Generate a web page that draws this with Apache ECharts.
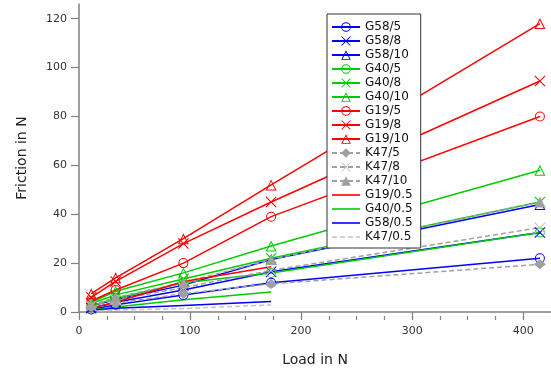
<!DOCTYPE html>
<html>
<head>
<meta charset="utf-8">
<script src="https://cdn.jsdelivr.net/npm/echarts@6/dist/echarts.min.js"></script>
<style>
  html, body { margin: 0; padding: 0; background: #fff; }
  #chart { width: 551px; height: 372px; }
</style>
</head>
<body>
<div id="chart"></div>
<script>
// loads (x) for the full runs and the short 0.5 runs
const loads = [11, 33, 94, 173, 415];
const loadsShort = [11, 33, 94, 173];

// friction values
const g58_5 = [1, 3, 7, 12, 22];
const g58_8 = [1.5, 4, 9, 16.5, 32.5];
const g58_10 = [2.5, 5, 11, 21.5, 44];
const g40_5 = [2.5, 5.5, 12, 16, 32.5];
const g40_8 = [3.5, 7, 13.5, 22, 45];
const g40_10 = [4, 8.5, 16, 27, 58];
const g19_5 = [4.5, 9, 20, 39, 80];
const g19_8 = [6, 12.5, 28, 45, 94.5];
const g19_10 = [7.5, 14, 30, 52, 118];
const k47_5 = [2, 3.5, 7.5, 11.5, 19.5];
const k47_8 = [2.5, 5, 10, 17, 34.5];
const k47_10 = [3, 6, 12, 21.5, 45];
const g19_05 = [1.5, 4, 12.5, 18.5];
const g40_05 = [0.8, 2, 5, 8.2];
const g58_05 = [0.7, 1.5, 2.7, 4.3];
const k47_05 = [0.4, 0.8, 1.4, 2.9];

const xTicks = [0, 100, 200, 300, 400];
const yTicks = [0, 20, 40, 60, 80, 100, 120];

const RED = "#ff0000", GREEN = "#00cc00", BLUE = "#0000ff", GRAY = "#a0a0a0", LGRAY = "#c4c4c4";

// thin outline markers (rings), drawn as filled paths so the outline stays ~1px
const RING = "path://M5,0A5,5 0 1,1 5,10A5,5 0 1,1 5,0Z M5,1A4,4 0 1,0 5,9A4,4 0 1,0 5,1Z";
const TRI_RING = "path://M5,0L10,10L0,10Z M5,2.01L1.455,9.1L8.545,9.1Z";
const X_MARK = "path://M0,0.7L0.7,0L5,4.3L9.3,0L10,0.7L5.7,5L10,9.3L9.3,10L5,5.7L0.7,10L0,9.3L4.3,5Z";
// legend icons for the plain line series
const LINE_ICON = "path://M0,4.2L28,4.2L28,5.8L0,5.8Z";
const DASH_ICON = "path://M0,4.2L5,4.2L5,5.8L0,5.8Z M8,4.2L13,4.2L13,5.8L8,5.8Z M16,4.2L21,4.2L21,5.8L16,5.8Z M24,4.2L28,4.2L28,5.8L24,5.8Z";

const zip = (xs, ys) => ys.map((y, i) => [xs[i], y]);

function mk(name, xs, ys, color, symbol, size, opts) {
  opts = opts || {};
  return {
    name: name,
    type: "line",
    data: zip(xs, ys),
    symbol: symbol || "none",
    symbolSize: size || 0,
    showSymbol: !!symbol,
    lineStyle: { color: opts.lineColor || color, width: 1.5, type: opts.dash ? [5, 3] : "solid" },
    itemStyle: { color: color, borderWidth: 0 },
    emphasis: { disabled: true },
    z: 2
  };
}

const series = [
  mk("G58/5", loads, g58_5, BLUE, RING, 10),
  mk("G58/8", loads, g58_8, BLUE, X_MARK, 11),
  mk("G58/10", loads, g58_10, BLUE, TRI_RING, 11),
  mk("G40/5", loads, g40_5, GREEN, RING, 10),
  mk("G40/8", loads, g40_8, GREEN, X_MARK, 11),
  mk("G40/10", loads, g40_10, GREEN, TRI_RING, 11),
  mk("G19/5", loads, g19_5, RED, RING, 10),
  mk("G19/8", loads, g19_8, RED, X_MARK, 11),
  mk("G19/10", loads, g19_10, RED, TRI_RING, 11),
  mk("K47/5", loads, k47_5, GRAY, "diamond", [12, 10], { dash: true }),
  mk("K47/8", loads, k47_8, LGRAY, X_MARK, 11, { dash: true, lineColor: GRAY }),
  mk("K47/10", loads, k47_10, GRAY, "triangle", 11, { dash: true }),
  mk("G19/0.5", loadsShort, g19_05, RED),
  mk("G40/0.5", loadsShort, g40_05, GREEN),
  mk("G58/0.5", loadsShort, g58_05, BLUE),
  mk("K47/0.5", loadsShort, k47_05, LGRAY, null, 0, { dash: true })
];

const legendData = series.map(s => {
  if (s.name === "K47/0.5") return { name: s.name, icon: DASH_ICON };
  if (s.name.endsWith("/0.5")) return { name: s.name, icon: LINE_ICON };
  return { name: s.name };
});

const axisGray = "#808080";
const labelStyle = { color: "#333", fontSize: 11, fontFamily: "DejaVu Sans" };

const chart = echarts.init(document.getElementById("chart"), null, { renderer: "canvas" });
chart.setOption({
  animation: false,
  backgroundColor: "#fff",
  textStyle: { fontFamily: "DejaVu Sans" },
  grid: [
    { left: 79, right: 0, top: 4, bottom: 56, containLabel: false },
    { left: 79, right: 0, top: 4, bottom: 56, containLabel: false }
  ],
  legend: {
    orient: "vertical",
    left: 327,
    top: 14,
    padding: [7, 8, 5, 4],
    itemWidth: 28,
    itemHeight: 12,
    itemGap: 2,
    backgroundColor: "#fff",
    borderColor: "#333",
    borderWidth: 1,
    borderRadius: 0,
    selectedMode: false,
    textStyle: { color: "#111", fontSize: 12, fontFamily: "DejaVu Sans" },
    data: legendData,
    z: 10
  },
  xAxis: [
    {
      type: "value",
      gridIndex: 0,
      min: 0,
      max: 425,
      interval: 100,
      name: "Load in N",
      nameLocation: "middle",
      nameGap: 41,
      nameTextStyle: { color: "#222", fontSize: 14, fontFamily: "DejaVu Sans" },
      axisLine: { show: true, lineStyle: { color: axisGray, width: 1.5 } },
      axisTick: { show: true, length: 7, customValues: xTicks, lineStyle: { color: axisGray, width: 1.2 } },
      axisLabel: { customValues: xTicks, margin: 14, ...labelStyle },
      splitLine: { show: false }
    },
    {
      type: "value",
      gridIndex: 1,
      min: 0,
      max: 425,
      interval: 25,
      position: "bottom",
      axisLine: { show: false },
      axisTick: { show: true, length: 4, lineStyle: { color: axisGray, width: 1.2 } },
      axisLabel: { show: false },
      splitLine: { show: false }
    }
  ],
  yAxis: [
    {
      type: "value",
      gridIndex: 0,
      min: 0,
      max: 126,
      interval: 20,
      name: "Friction in N",
      nameLocation: "middle",
      nameGap: 50,
      nameTextStyle: { color: "#222", fontSize: 14, fontFamily: "DejaVu Sans" },
      axisLine: { show: true, lineStyle: { color: axisGray, width: 1.5 } },
      axisTick: { show: true, length: 8, customValues: yTicks, lineStyle: { color: axisGray, width: 1.2 } },
      axisLabel: { customValues: yTicks, margin: 12, ...labelStyle },
      splitLine: { show: false }
    },
    { type: "value", gridIndex: 1, min: 0, max: 126, show: false }
  ],
  series: series
});
</script>
</body>
</html>
